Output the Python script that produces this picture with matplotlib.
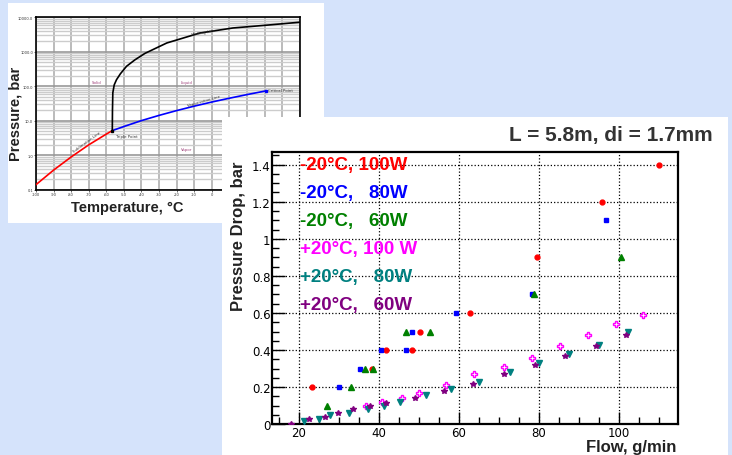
import matplotlib
matplotlib.use('Agg')
import matplotlib.pyplot as plt
import numpy as np
from matplotlib.patches import Rectangle
from matplotlib.ticker import FixedLocator, MultipleLocator, FuncFormatter

# Phase diagram of CO2
subl_t = [-100, -90, -80, -70, -60, -56.6]
subl_p = [0.14, 0.37, 0.89, 2.0, 4.1, 5.18]
vap_t = [-56.6, -50, -40, -30, -20, -10, 0, 10, 20, 31]
vap_p = [5.18, 6.8, 10.1, 14.3, 19.7, 26.5, 34.9, 45.0, 57.3, 73.8]
melt_t = [-56.6, -56.5, -56.3, -55.5, -54.2, -52, -48.5, -43.7, -38, -25.6, -6.8, 12, 31, 50]
melt_p = [5.18, 20, 65, 110, 155, 230, 380, 585, 900, 1800, 3500, 4900, 5900, 7200]
phase_xticks = [-100, -90, -80, -70, -60, -50, -40, -30, -20, -10, 0, 10, 20, 30, 40, 50]
phase_xlabels = ['-100', '-90', '-80', '-70', '-60', '-50', '-40', '-30', '-20', '-10', '0',
                 '', '', '', '', '']   # the rest sits under the right panel
phase_yticks = [0.1, 1, 10, 100, 1000, 10000]

# Pressure drop measurements
labels = ['-20°C, 100W', '-20°C,   80W', '-20°C,   60W',
          '+20°C, 100 W', '+20°C,   80W', '+20°C,   60W']
colors = ['#ff0000', '#0000ff', '#008000', '#ff00ff', '#008080', '#800080']

m20_100_x = [23.25, 38.2, 41.7, 48.2, 50.25, 62.9, 79.6, 95.7, 110.0]
m20_100_y = [0.20, 0.30, 0.40, 0.40, 0.50, 0.60, 0.90, 1.20, 1.40]
m20_80_x = [30.0, 35.25, 40.6, 46.9, 48.3, 59.25, 78.25, 96.9]
m20_80_y = [0.20, 0.30, 0.40, 0.40, 0.50, 0.60, 0.70, 1.10]
m20_60_x = [27.0, 33.1, 36.5, 38.5, 46.9, 52.9, 78.8, 100.6]
m20_60_y = [0.10, 0.20, 0.30, 0.30, 0.50, 0.50, 0.70, 0.90]
p20_100_x = [36.8, 40.75, 45.7, 50.1, 56.75, 63.9, 71.2, 78.2, 85.2, 92.2, 99.25, 106.0]
p20_100_y = [0.10, 0.12, 0.14, 0.17, 0.21, 0.27, 0.31, 0.36, 0.42, 0.48, 0.54, 0.59]
p20_80_x = [21.2, 25.0, 27.9, 32.6, 37.25, 41.25, 45.2, 51.9, 58.0, 65.1, 72.7, 80.1, 87.6, 95.1, 102.25]
p20_80_y = [0.02, 0.03, 0.05, 0.06, 0.08, 0.10, 0.12, 0.16, 0.19, 0.23, 0.28, 0.33, 0.38, 0.43, 0.50]
p20_60_x = [18.0, 22.5, 26.6, 29.8, 33.6, 37.7, 41.7, 49.0, 56.3, 63.6, 71.3, 79.0, 86.5, 94.4, 101.8]
p20_60_y = [0.0, 0.03, 0.04, 0.06, 0.08, 0.10, 0.115, 0.14, 0.18, 0.22, 0.27, 0.32, 0.37, 0.42, 0.48]

W, H = 732, 456
fig = plt.figure(figsize=(W / 100, H / 100), dpi=100, facecolor='#d5e3fb')

def fx(px):
    return px / W

def fy(py):
    return 1 - py / H

# white panels (left one below, right one on top)
fig.patches.append(Rectangle((fx(8), fy(224)), fx(316), 220 / H, transform=fig.transFigure,
                             facecolor='white', edgecolor='none', zorder=-5))
fig.patches.append(Rectangle((fx(222), 0), fx(506), (456 - 118) / H, transform=fig.transFigure,
                             facecolor='white', edgecolor='none', zorder=5))

# ---------- left: phase diagram ----------
ax1 = fig.add_axes([fx(36), fy(190.7), fx(299.7 - 36), (190.7 - 18.3) / H], zorder=0)
ax1.set_yscale('log')
ax1.set_xlim(-100, 50)
ax1.set_ylim(0.1, 10000)
ax1.set_facecolor('white')
for t in phase_xticks:
    ax1.axvline(t, color='#a8a8a8', lw=1.1, zorder=1)
for dec in phase_yticks[:-1]:
    for k in range(2, 10):
        ax1.axhline(dec * k, color='#cccccc', lw=1.0, zorder=1)
for p in phase_yticks:
    ax1.axhline(p, color='#999999', lw=1.2, zorder=1)
ax1.plot(subl_t, subl_p, color='red', lw=1.2, zorder=3)
ax1.plot(vap_t, vap_p, color='blue', lw=1.2, zorder=3)
ax1.plot(melt_t, melt_p, color='black', lw=1.2, zorder=3)
ax1.plot([vap_t[0]], [vap_p[0]], 's', color='black', ms=1.5, zorder=4)
ax1.plot([vap_t[-1]], [vap_p[-1]], 's', color='blue', ms=1.5, zorder=4)
ax1.set_xticks(phase_xticks)
ax1.set_xticklabels(phase_xlabels)
ax1.yaxis.set_major_locator(FixedLocator(phase_yticks))
ax1.yaxis.set_minor_locator(FixedLocator([]))
ax1.set_yticklabels(['%.1f' % p for p in phase_yticks])
ax1.tick_params(labelsize=2.6, length=1.5, width=0.5, pad=0.5, colors='#333333')
for s in ax1.spines.values():
    s.set_linewidth(1.2)
txt_kw = dict(fontsize=2.8, ha='center', va='center', zorder=4)
ax1.text(-65.5, 133, 'Solid', color='#a0407a', **txt_kw)
ax1.text(-14.4, 133, 'Liquid', color='#a0407a', **txt_kw)
ax1.text(-14.4, 1.56, 'Vapor', color='#a0407a', **txt_kw)
ax1.text(-54.5, 3.6, 'Triple Point', color='#333333', fontsize=2.8, ha='left', va='center', zorder=4)
ax1.text(32, 76, 'Critical Point', color='#333333', fontsize=2.8, ha='left', va='center', zorder=4)
ax1.text(-4.5, 3700, 'Melting Line', color='#333333', rotation=10, **txt_kw)
ax1.text(-4.5, 38, 'Vaporization Line', color='#333333', rotation=16, **txt_kw)
ax1.text(-71, 2.5, 'Sublimation Line', color='#333333', rotation=36, **txt_kw)
fig.text(fx(16), fy(114), 'Pressure, bar', rotation=90, ha='center', va='center',
         fontsize=10.5, weight='bold', family='Liberation Sans', color='#222222', zorder=0)
fig.text(fx(127), fy(208), 'Temperature, °C', ha='center', va='center',
         fontsize=10.5, weight='bold', family='Liberation Sans', color='#222222', zorder=0)

# ---------- right: pressure drop ----------
ax2 = fig.add_axes([fx(272), fy(425.3), fx(677.7 - 272), (425.3 - 152.7) / H], zorder=10)
ax2.set_xlim(13.3, 114.7)
ax2.set_ylim(0, 1.47)
series = [
    (m20_100_x, m20_100_y, 'o', 3.5),
    (m20_80_x, m20_80_y, 's', 3.5),
    (m20_60_x, m20_60_y, '^', 3.7),
    (p20_100_x, p20_100_y, 'P', 5.0),
    (p20_80_x, p20_80_y, 'v', 3.9),
    (p20_60_x, p20_60_y, '*', 3.9),
]
for (xs, ys, mk, ms), c in zip(series, colors):
    if mk == 'P':
        ax2.plot(xs, ys, mk, ms=ms, mfc='white', mec=c, mew=1.0, ls='none', zorder=4)
    else:
        ax2.plot(xs, ys, mk, ms=ms, color=c, mec=c, ls='none', zorder=4)

ax2.xaxis.set_major_locator(MultipleLocator(20))
ax2.xaxis.set_minor_locator(MultipleLocator(5))
ax2.yaxis.set_major_locator(MultipleLocator(0.2))
ax2.yaxis.set_minor_locator(MultipleLocator(0.05))
ax2.yaxis.set_major_formatter(FuncFormatter(lambda v, p: '%g' % round(v, 2)))
ax2.grid(True, which='major', color='black', ls=':', lw=0.9)
ax2.tick_params(which='major', direction='in', length=9, width=1, labelsize=8.5, pad=1.5)
ax2.tick_params(which='minor', direction='in', length=5, width=1)
ax2.tick_params(axis='y', pad=1)
for s in ax2.spines.values():
    s.set_linewidth(1.6)

for i, (lab, c) in enumerate(zip(labels, colors)):
    ax2.text(20.3, 1.40 - i * 0.151, lab, color=c, fontsize=13.5, weight='bold',
             family='Liberation Sans', ha='left', va='center', zorder=5)

fig.text(fx(713), fy(135), 'L = 5.8m, di = 1.7mm', ha='right', va='center', fontsize=15,
         weight='bold', family='Liberation Sans', color='#333333', zorder=11)
fig.text(fx(239), fy(236), 'Pressure Drop, bar', rotation=90, ha='center', va='center',
         fontsize=12, weight='bold', family='Liberation Sans', color='#222222', zorder=11)
fig.text(fx(676.7), fy(452.5), 'Flow, g/min', ha='right', va='baseline', fontsize=12,
         weight='bold', family='Liberation Sans', color='#222222', zorder=11)

fig.savefig('out.png', dpi=100, facecolor=fig.get_facecolor())
